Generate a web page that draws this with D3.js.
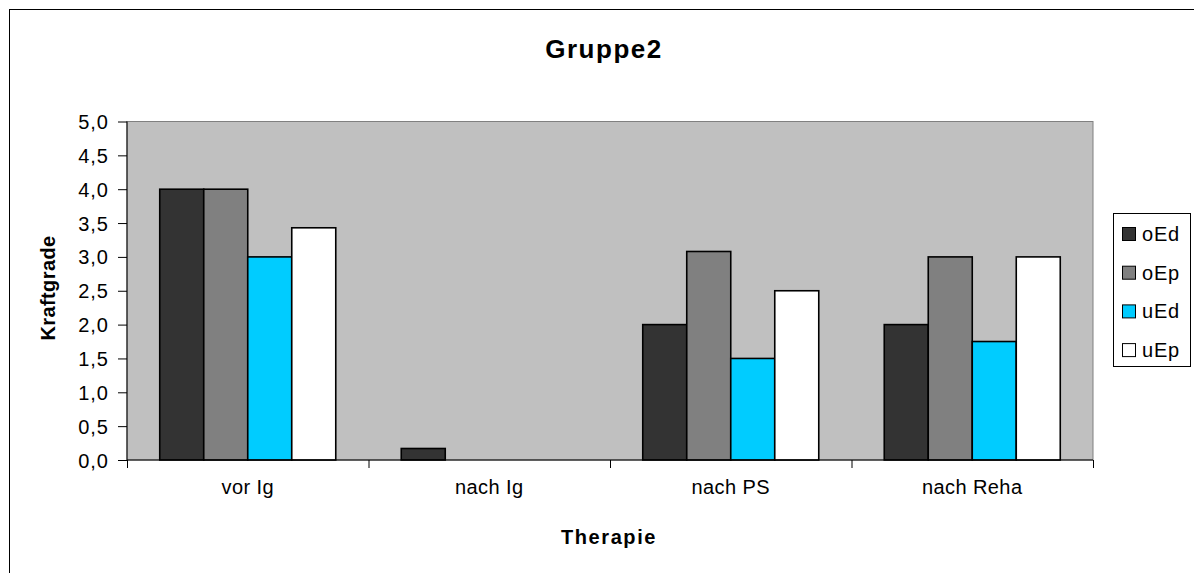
<!DOCTYPE html>
<html><head><meta charset="utf-8">
<script src="https://cdn.jsdelivr.net/npm/d3@7/dist/d3.min.js"></script>
<style>
html,body{margin:0;padding:0;background:#fff;}
svg{display:block;font-family:"Liberation Sans",Arial,sans-serif;}
</style></head>
<body><svg id="c" width="1194" height="573"></svg>
<script>
const categories = ["vor Ig", "nach Ig", "nach PS", "nach Reha"];
const seriesNames = ["oEd", "oEp", "uEd", "uEp"];
const seriesColors = ["#333333", "#808080", "#00CCFF", "#FFFFFF"];
const oEd = [4.0, 0.17, 2.0, 2.0];
const oEp = [4.0, 0.0, 3.08, 3.0];
const uEd = [3.0, 0.0, 1.5, 1.75];
const uEp = [3.43, 0.0, 2.5, 3.0];
const yTicks = [0, 0.5, 1, 1.5, 2, 2.5, 3, 3.5, 4, 4.5, 5];
const seriesValues = [oEd, oEp, uEd, uEp];

const svg = d3.select("#c");
const FF = "Liberation Sans, Arial, sans-serif";
// outer chart border
svg.append("rect").attr("x", 9.5).attr("y", 9.5).attr("width", 1200).attr("height", 600)
  .attr("fill", "#fff").attr("stroke", "#000").attr("stroke-width", 1);

const L = 127, R = 1093, T = 121.5, B = 460;
const x0 = d3.scaleBand().domain(categories).range([L, R]).paddingInner(0).paddingOuter(0);
const x1 = d3.scaleBand().domain(seriesNames).range([0, x0.bandwidth()]).paddingOuter(0.744).paddingInner(0);
const y = d3.scaleLinear().domain([0, 5]).range([B, T]);

// plot area
svg.append("rect").attr("x", L).attr("y", T).attr("width", R - L).attr("height", B - T)
  .attr("fill", "#C0C0C0").attr("stroke", "#808080").attr("stroke-width", 1);

// bars
const g = svg.append("g");
categories.forEach((c, ci) => {
  seriesNames.forEach((s, si) => {
    const v = seriesValues[si][ci];
    if (v <= 0) return;
    g.append("rect")
      .attr("x", x0(c) + x1(s))
      .attr("y", y(v))
      .attr("width", x1.bandwidth())
      .attr("height", y(0) - y(v))
      .attr("fill", seriesColors[si])
      .attr("stroke", "#000").attr("stroke-width", 1.6);
  });
});

// y axis
const yAxis = d3.axisLeft(y).tickValues(yTicks).tickSize(9)
  .tickFormat(d => d3.format(".1f")(d).replace(".", ","));
const ya = svg.append("g").attr("transform", `translate(${L},0)`).call(yAxis);
ya.select(".domain").attr("stroke", "#000").attr("d", `M0,${T}V${B}`);
ya.selectAll(".tick line").attr("stroke", "#000");
ya.selectAll(".tick text").attr("font-size", 20).attr("font-family", FF)
  .attr("letter-spacing", 1.0).attr("fill", "#000").attr("x", -18).attr("dy", "0.35em");

// x axis
const xAxis = d3.axisBottom(d3.scaleLinear().domain([0, 4]).range([L, R]))
  .tickValues([0, 1, 2, 3, 4]).tickSize(8).tickFormat("");
const xa = svg.append("g").attr("transform", `translate(0,${B})`).call(xAxis);
xa.select(".domain").attr("stroke", "#000").attr("d", `M${L},0H${R}`);
xa.selectAll(".tick line").attr("stroke", "#000");
svg.append("g").selectAll("text").data(categories).join("text")
  .attr("x", d => x0(d) + x0.bandwidth() / 2).attr("y", 494)
  .attr("text-anchor", "middle").attr("font-size", 20).attr("letter-spacing", 0.4)
  .attr("fill", "#000").text(d => d);

// titles
svg.append("text").attr("x", 604).attr("y", 58).attr("text-anchor", "middle")
  .attr("font-size", 26).attr("font-weight", "bold").attr("letter-spacing", 1.5).text("Gruppe2");
svg.append("text").attr("x", 609).attr("y", 544).attr("text-anchor", "middle")
  .attr("font-size", 20).attr("font-weight", "bold").attr("letter-spacing", 1.6).text("Therapie");
svg.append("text").attr("transform", "translate(55,288) rotate(-90)").attr("text-anchor", "middle")
  .attr("font-size", 20).attr("font-weight", "bold").attr("letter-spacing", 0.4).text("Kraftgrade");

// legend
const lg = svg.append("g");
lg.append("rect").attr("x", 1113.5).attr("y", 213.5).attr("width", 77).attr("height", 153)
  .attr("fill", "#fff").attr("stroke", "#000").attr("stroke-width", 1);
seriesNames.forEach((s, i) => {
  const cy = 234 + i * 38.7;
  lg.append("rect").attr("x", 1122.5).attr("y", cy - 6.5).attr("width", 13).attr("height", 13)
    .attr("fill", seriesColors[i]).attr("stroke", "#000").attr("stroke-width", 1);
  lg.append("text").attr("x", 1142).attr("y", cy + 7).attr("font-size", 20)
    .attr("letter-spacing", 0.8).text(s);
});
</script></body></html>
